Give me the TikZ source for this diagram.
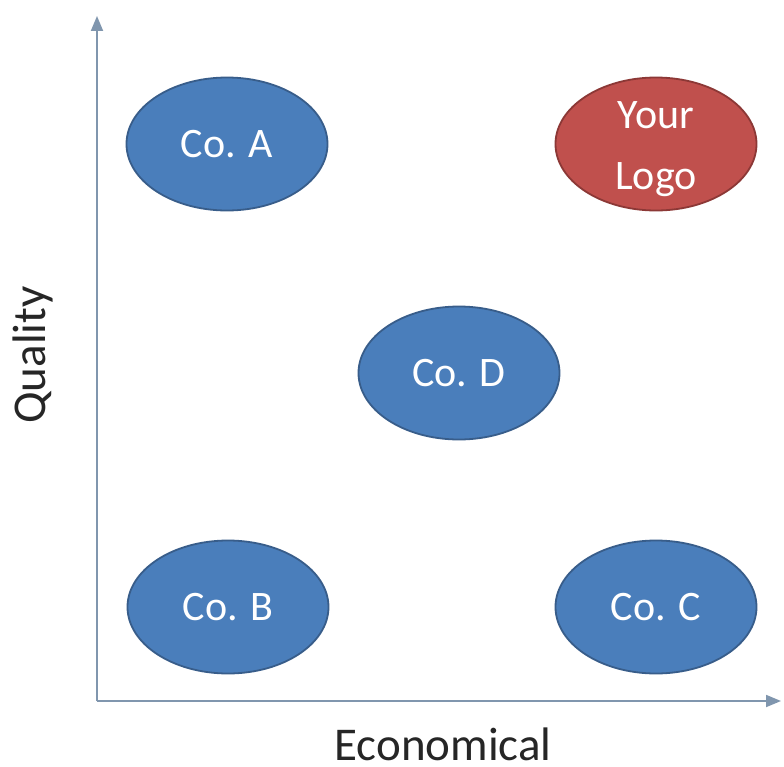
\documentclass[tikz,border=0pt]{standalone}
\usepackage{fontspec}
\setmainfont{Carlito}
\usetikzlibrary{shapes.geometric,arrows.meta}
\definecolor{axiscol}{HTML}{8096AE}
\definecolor{bluefill}{HTML}{4A7EBB}
\definecolor{blueline}{HTML}{385D8A}
\definecolor{redfill}{HTML}{C0504D}
\definecolor{redline}{HTML}{8C3836}
\tikzset{
  company/.style={ellipse, draw=blueline, fill=bluefill, line width=1.8bp,
    minimum width=201bp, minimum height=133bp, inner sep=0pt,
    text=white, font=\fontsize{42bp}{61bp}\selectfont, align=center},
  ours/.style={company, draw=redline, fill=redfill},
  axis/.style={draw=axiscol, line width=1.8bp, -{Triangle[length=15bp,width=12bp]}},
  axislabel/.style={font=\fontsize{47bp}{54bp}\selectfont, text=black!85, inner sep=0pt}
}
\begin{document}
\begin{tikzpicture}[x=1bp,y=-1bp]
\useasboundingbox[fill=white] (0,0) rectangle (784,767);
\coordinate (o) at (97,701);
\coordinate (ytop) at (97,16);
\coordinate (xend) at (781,701);
\draw[axis] (o) -- (ytop);
\draw[axis] (o) -- (xend);
\node[company] (a) at (227,144) {Co. A};
\node[ours] (logo) at (656,144) {};
\node[text=white, font=\fontsize{42bp}{61bp}\selectfont, align=center, inner sep=0pt] (logotext) at (656,149) {Your\\Logo};
\node[company] (d) at (459,373) {Co. D};
\node[company] (b) at (228,607) {Co. B};
\node[company] (c) at (656,607) {Co. C};
\node[axislabel] (xl) at (443,744) {Economical};
\node[axislabel, rotate=90] (yl) at (33,355) {Quality};
\end{tikzpicture}
\end{document}
